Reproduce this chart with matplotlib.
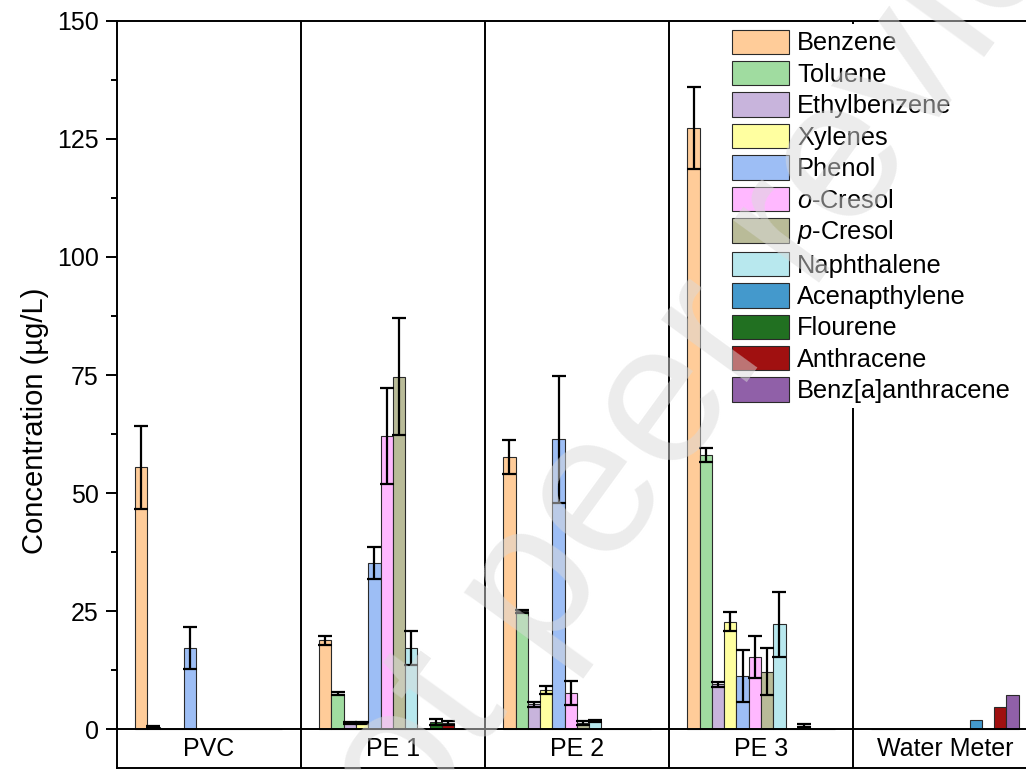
import numpy as np
import matplotlib
matplotlib.use("Agg")
import matplotlib.pyplot as plt
from matplotlib.ticker import FixedLocator

plt.rcParams['font.family'] = ['Liberation Sans', 'DejaVu Sans']
plt.rcParams['mathtext.fontset'] = 'custom'
plt.rcParams['mathtext.rm'] = 'Liberation Sans'
plt.rcParams['mathtext.it'] = 'Liberation Sans:italic'

# sample groups along the x axis
groups = ['PVC', 'PE 1', 'PE 2', 'PE 3', 'Water Meter']

compounds = ['Benzene', 'Toluene', 'Ethylbenzene', 'Xylenes', 'Phenol',
             r'$\mathit{o}$-Cresol', r'$\mathit{p}$-Cresol', 'Naphthalene',
             'Acenapthylene', 'Flourene', 'Anthracene', 'Benz[a]anthracene']

colors = ['#FFCC99', '#A0DCA0', '#C8B4DC', '#FFFFA0', '#9DBEF5', '#FFB8FF',
          '#B9BB98', '#B8E8EE', '#4499CC', '#217021', '#A01010', '#9060A8']

# concentration (ug/L), one row per compound, columns follow groups
conc = [
    [55.5, 18.8, 57.7, 127.3, 0.0],   # Benzene
    [0.5, 7.5, 25.0, 58.0, 0.0],      # Toluene
    [0.0, 1.3, 5.3, 9.5, 0.0],        # Ethylbenzene
    [0.0, 1.4, 8.3, 22.8, 0.0],       # Xylenes
    [17.2, 35.2, 61.4, 11.3, 0.0],    # Phenol
    [0.0, 62.1, 7.7, 15.3, 0.0],      # o-Cresol
    [0.0, 74.6, 1.4, 12.2, 0.0],      # p-Cresol
    [0.0, 17.2, 1.8, 22.2, 0.0],      # Naphthalene
    [0.0, 0.0, 0.0, 0.0, 1.9],        # Acenapthylene
    [0.0, 1.5, 0.0, 0.8, 0.0],        # Flourene
    [0.0, 1.3, 0.0, 0.0, 4.7],        # Anthracene
    [0.0, 0.0, 0.0, 0.0, 7.2],        # Benz[a]anthracene
]

# standard deviation
err = [
    [8.8, 1.0, 3.6, 8.7, 0.0],
    [0.3, 0.3, 0.3, 1.5, 0.0],
    [0.0, 0.2, 0.5, 0.5, 0.0],
    [0.0, 0.2, 0.8, 2.0, 0.0],
    [4.5, 3.4, 13.4, 5.5, 0.0],
    [0.0, 10.1, 2.5, 4.4, 0.0],
    [0.0, 12.4, 0.4, 5.0, 0.0],
    [0.0, 3.6, 0.2, 6.9, 0.0],
    [0.0, 0.0, 0.0, 0.0, 0.0],
    [0.0, 0.6, 0.0, 0.3, 0.0],
    [0.0, 0.4, 0.0, 0.0, 0.0],
    [0.0, 0.0, 0.0, 0.0, 0.0],
]

fig = plt.figure(figsize=(10.26, 7.70), dpi=100)
ax = fig.add_axes([0.1137, 0.0022, 0.8972, 0.9709])

n = len(compounds)
width = 1 / 15
x = np.arange(len(groups))

for j in range(n):
    pos = x + (j - (n - 1) / 2) * width
    vals = np.array(conc[j])
    e = np.array(err[j])
    ax.bar(pos, vals, width, color=colors[j], edgecolor='#2a2a2a',
           linewidth=0.8, label=compounds[j], zorder=3)
    m = e > 0
    if m.any():
        ax.errorbar(pos[m], vals[m], yerr=e[m], fmt='none', ecolor='black',
                    elinewidth=1.6, capsize=5, capthick=1.6, zorder=4)

ax.set_xlim(-0.5, 4.5)
ax.set_ylim(-8.26, 150)

ax.axhline(0, color='black', lw=1.4, zorder=5)
for d in x[:-1] + 0.5:
    ax.axvline(d, color='black', lw=1.4, zorder=2)

for i, g in enumerate(groups):
    ax.text(i, -4.13, g, ha='center', va='center', fontsize=18)

ax.set_xticks([])
ax.set_yticks([0, 25, 50, 75, 100, 125, 150])
ax.yaxis.set_minor_locator(FixedLocator([12.5, 37.5, 62.5, 87.5, 112.5, 137.5]))
ax.tick_params(axis='y', which='major', direction='out', length=8, width=1.4,
               labelsize=18, pad=5)
ax.tick_params(axis='y', which='minor', direction='out', length=4.5, width=1.4)
for s in ax.spines.values():
    s.set_linewidth(1.4)
ax.spines['right'].set_visible(False)

ax.set_ylabel('Concentration (µg/L)', fontsize=21)
ax.yaxis.set_label_coords(-0.073, 0.4646)

leg = ax.legend(loc='upper left', bbox_to_anchor=(0.6627, 0.995),
                borderaxespad=0, borderpad=0.2, fontsize=18.3,
                handlelength=2.25, handleheight=1.1, handletextpad=0.33,
                labelspacing=0.22, frameon=True, fancybox=False,
                framealpha=1, facecolor='white', edgecolor='none')
leg.set_zorder(6)
for h in leg.legend_handles:
    h.set_edgecolor('#2a2a2a')

# preprint watermark
fig.text(0.744, 0.647, 'Not peer reviewed', rotation=54, rotation_mode='anchor',
         fontsize=145, color='#DADADA', alpha=0.5, ha='center', va='center',
         zorder=10)

fig.savefig('out.png', dpi=100)
